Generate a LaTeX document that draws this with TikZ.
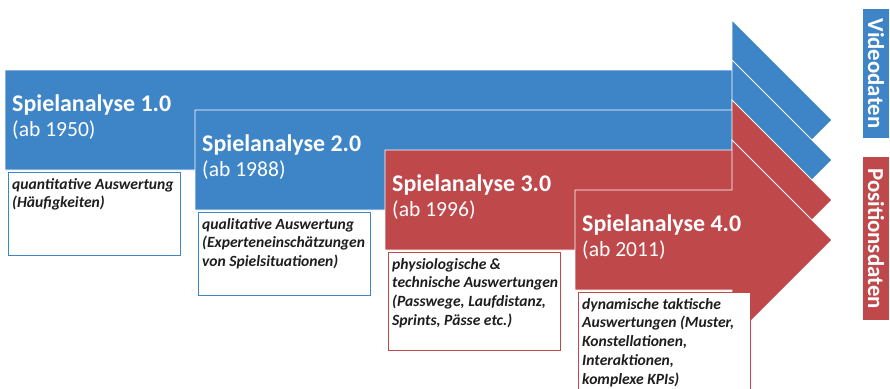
\documentclass[tikz,border=0pt]{standalone}
\usepackage{fontspec}
\setmainfont{Carlito}
\usetikzlibrary{positioning, calc}
\definecolor{videoblue}{RGB}{62,133,199}
\definecolor{posred}{RGB}{191,72,75}
\definecolor{infotext}{RGB}{30,30,30}

\begin{document}
\begin{tikzpicture}[x=0.03cm, y=-0.03cm, phase/.style={draw=white, line width=0.7pt, line join=miter}, title/.style={anchor=west, inner sep=0pt, text=white, font=\bfseries\fontsize{20.4}{24}\selectfont}, year/.style={anchor=west, inner sep=0pt, text=white, font=\fontsize{18.4}{22}\selectfont}, infobox/.style={fill=white, line width=0.8pt}, info/.style={anchor=north west, inner sep=0pt, align=left, text=infotext, font=\bfseries\itshape\fontsize{13.3}{16}\selectfont}, side/.style={shape=rectangle, rotate=-90, text=white, inner sep=0pt, minimum height=0.78cm, font=\bfseries\fontsize{19.5}{22}\selectfont}]
\useasboundingbox (0,0) rectangle (890,388);
\clip (0,0) rectangle (890,388);
\foreach \n/\yr/\col/\h/\info in {1/1950/videoblue/83/{quantitative Auswertung\\(Häufigkeiten)}, 2/1988/videoblue/83/{qualitative Auswertung\\(Experteneinschätzungen\\von Spielsituationen)}, 3/1996/posred/98/{physiologische \&\\technische Auswertungen\\(Passwege, Laufdistanz,\\Sprints, Pässe etc.)}, 4/2011/posred/100/{dynamische taktische\\Auswertungen (Muster,\\Konstellationen,\\Interaktionen,\\komplexe KPIs)}} {
	\pgfmathsetmacro\xl{5+190*(\n-1)}
	\pgfmathsetmacro\ytop{70+40*(\n-1)}
	% Pfeil mit Spitze
	\filldraw[phase, fill=\col] (\xl, \ytop) -- (732, \ytop) -- (732, \ytop-50) -- (832, \ytop+50) -- (732, \ytop+150) -- (732, \ytop+100) -- (\xl, \ytop+100) -- cycle;
	\node[title] (title \n) at (\xl+7, \ytop+35) {Spielanalyse \n.0};
	\node[year] (year \n) at (\xl+7, \ytop+60) {(ab \yr)};
	% Kasten darunter
	\draw[infobox, draw=\col] (\xl+3, \ytop+102) rectangle ++(172, \h);
	\node[info] (info \n) at (\xl+7, \ytop+108) {\info};
}
\node[side, fill=videoblue, minimum width=3.87cm] (video) at (876, 73.5) {Videodaten};
\node[side, fill=posred, minimum width=4.89cm] (position) at (876, 238.5) {Positionsdaten};
\end{tikzpicture}
\end{document}
